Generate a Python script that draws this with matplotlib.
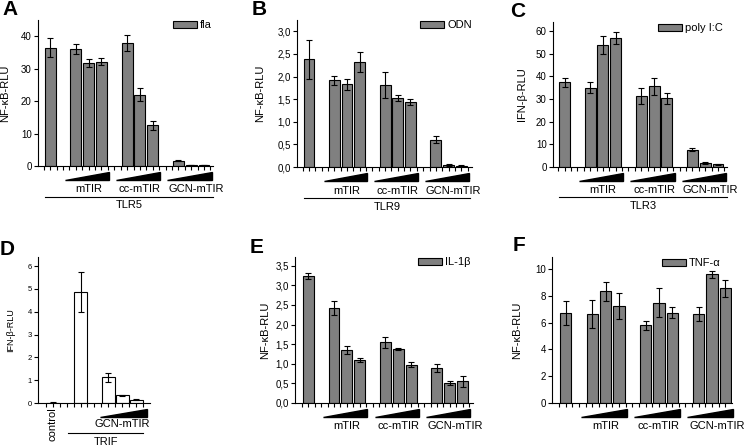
import numpy as np
import matplotlib
matplotlib.use("Agg")
import matplotlib.pyplot as plt
from matplotlib.ticker import FuncFormatter, MultipleLocator

plt.rcParams['font.family'] = ['Liberation Sans', 'DejaVu Sans']

# bar positions: control, then three titration groups
pos = [0, 2, 3, 4, 6, 7, 8, 10, 11, 12]
groups = ["mTIR", "cc-mTIR", "GCN-mTIR"]
group_start = [2, 6, 10]
label_pos = [3.0, 7.0, 11.4]

# panel A - TLR5 / fla
a_val = [36.5, 36.0, 31.7, 32.2, 38.0, 22.0, 12.5, 1.6, 0.3, 0.3]
a_err = [3.0, 1.5, 1.2, 1.0, 2.5, 2.0, 1.3, 0.2, 0.1, 0.1]
# panel B - TLR9 / ODN
b_val = [2.38, 1.92, 1.83, 2.33, 1.82, 1.52, 1.44, 0.60, 0.04, 0.03]
b_err = [0.43, 0.10, 0.12, 0.22, 0.29, 0.07, 0.07, 0.08, 0.02, 0.01]
# panel C - TLR3 / poly I:C
c_val = [37.3, 35.0, 54.0, 57.0, 31.4, 35.7, 30.3, 7.6, 1.8, 1.3]
c_err = [2.2, 2.3, 4.0, 2.5, 3.5, 3.8, 2.5, 0.6, 0.4, 0.2]
# panel D - TRIF
d_pos = [0, 2, 4, 5, 6]
d_val = [0.02, 4.88, 1.12, 0.33, 0.15]
d_err = [0.02, 0.88, 0.20, 0.02, 0.04]
# panel E - IL-1b
e_val = [3.24, 2.42, 1.35, 1.09, 1.55, 1.38, 0.98, 0.89, 0.52, 0.55]
e_err = [0.07, 0.18, 0.10, 0.05, 0.14, 0.02, 0.07, 0.10, 0.05, 0.13]
# panel F - TNF-a
f_val = [6.7, 6.65, 8.35, 7.25, 5.8, 7.5, 6.75, 6.65, 9.6, 8.55]
f_err = [0.9, 1.05, 0.7, 0.95, 0.35, 1.05, 0.42, 0.55, 0.25, 0.65]

W, H = 745, 446
fig = plt.figure(figsize=(W / 100, H / 100), dpi=100)


def make_ax(left, right, top, bottom):
    return fig.add_axes([left / W, 1 - bottom / H, (right - left) / W, (bottom - top) / H])


def comma(x, p):
    return ("%.1f" % x).replace(".", ",")


def style(ax, ylim, step, ylabel, labx, tsize=7, lsize=8, use_comma=False):
    ax.set_ylim(*ylim)
    ax.spines['top'].set_visible(False)
    ax.spines['right'].set_visible(False)
    ax.yaxis.set_major_locator(MultipleLocator(step))
    if use_comma:
        ax.yaxis.set_major_formatter(FuncFormatter(comma))
    ax.tick_params(axis='y', direction='out', length=3, labelsize=tsize, pad=1.5)
    ax.tick_params(axis='x', direction='out', length=3, labelbottom=False)
    ax.set_ylabel(ylabel, fontsize=lsize)
    ax.yaxis.set_label_coords(labx, 0.5)


def wedges(ax, y0=-0.096, y1=-0.04, ylab=-0.16):
    tr = ax.get_xaxis_transform()
    for g, s, lp in zip(groups, group_start, label_pos):
        x0, x1 = s - 0.85, s + 2.6
        ax.fill([x0, x1, x1], [y0, y0, y1], color='black', transform=tr, clip_on=False)
        ax.text(lp, ylab, g, transform=tr, ha='center', va='center', fontsize=8)


def underline(ax, x0, x1, label, yl=-0.21, yt=-0.27):
    tr = ax.get_xaxis_transform()
    ax.plot([x0, x1], [yl, yl], color='black', lw=0.8, transform=tr, clip_on=False)
    ax.text((x0 + x1) / 2, yt, label, transform=tr, ha='center', va='center', fontsize=8)


def bars(ax, p, v, e, color, name, xlim, leg_xy):
    ax.bar(p, v, width=0.85, yerr=e, color=color, edgecolor='black', linewidth=0.8,
           error_kw=dict(elinewidth=0.8, capsize=2, capthick=0.8, ecolor='black'), label=name)
    ax.set_xlim(*xlim)
    ax.set_xticks(np.arange(-0.5, xlim[1], 0.5))
    ax.legend(loc='center left', bbox_to_anchor=(leg_xy[0] / W, 1 - leg_xy[1] / H),
              bbox_transform=fig.transFigure, frameon=False, fontsize=8,
              handlelength=2.15, handleheight=0.6, borderaxespad=0, borderpad=0,
              handletextpad=0.3)


gray = '#808080'

axA = make_ax(38, 213, 20, 166)
bars(axA, pos, a_val, a_err, gray, "fla", (-0.95, 12.7), (173, 25))
style(axA, (0, 45), 10, "NF-κB-RLU", -0.16)
wedges(axA)
underline(axA, -0.4, 12.7, "TLR5")

axB = make_ax(297, 472, 20, 167)
bars(axB, pos, b_val, b_err, gray, "ODN", (-0.95, 12.85), (420, 25))
style(axB, (0, 3.25), 0.5, "NF-κB-RLU", -0.183, use_comma=True)
wedges(axB)
underline(axB, -0.4, 12.7, "TLR9")

axC = make_ax(553, 727, 22, 167)
bars(axC, pos, c_val, c_err, gray, "poly I:C", (-0.9, 12.7), (658, 28))
style(axC, (0, 64), 10, "IFN-β-RLU", -0.15)
wedges(axC)
underline(axC, -0.4, 12.7, "TLR3")

axD = make_ax(38, 150, 257, 403)
axD.bar(d_pos, d_val, width=0.93, yerr=d_err, color='white', edgecolor='black', linewidth=0.8,
        error_kw=dict(elinewidth=0.8, capsize=2, capthick=0.8, ecolor='black'))
axD.set_xlim(-1.06, 7.0)
axD.set_xticks(np.arange(-0.5, 7.0, 0.5))
style(axD, (0, 6.4), 1, "IFN-β-RLU", -0.205, tsize=5.5, lsize=6.5)
trD = axD.get_xaxis_transform()
axD.fill([3.4, 6.77, 6.77], [-0.096, -0.096, -0.04], color='black', transform=trD, clip_on=False)
axD.text(5.0, -0.145, "GCN-mTIR", transform=trD, ha='center', va='center', fontsize=8)
axD.text(0, -0.03, "control", transform=trD, ha='center', va='top', rotation=90, fontsize=8)
underline(axD, 1.12, 6.53, "TRIF", yl=-0.205, yt=-0.27)

axE = make_ax(295, 473, 257, 403)
bars(axE, pos, e_val, e_err, gray, "IL-1β", (-1.03, 12.8), (418, 262))
style(axE, (0, 3.72), 0.5, "NF-κB-RLU", -0.14, use_comma=True)
wedges(axE)

axF = make_ax(552, 732, 257, 403)
bars(axF, pos, f_val, f_err, gray, "TNF-α", (-1.04, 12.5), (662, 263))
style(axF, (0, 10.9), 2, "NF-κB-RLU", -0.167)
wedges(axF)

for letter, x, y in [("A", 2, 0), ("B", 252, 0), ("C", 510, 2), ("D", 0, 240), ("E", 250, 238), ("F", 513, 236)]:
    fig.text(x / W, 1 - y / H, letter, fontsize=15, fontweight='bold', va='top', ha='left')

fig.savefig("out.png", dpi=100)
